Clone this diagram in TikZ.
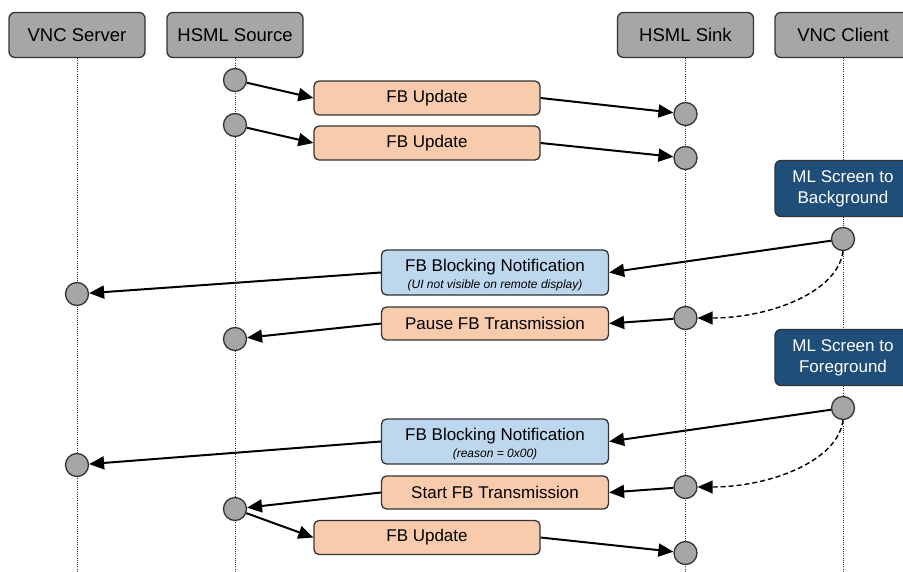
\documentclass[tikz,border=0pt]{standalone}
\usepackage{fontspec}
\setmainfont{Liberation Sans}
\usetikzlibrary{arrows.meta}
\definecolor{hdrgray}{HTML}{A6A6A6}
\definecolor{dotgray}{HTML}{A6A6A6}
\definecolor{msgorange}{HTML}{F8CBAD}
\definecolor{blkblue}{HTML}{BDD7EE}
\definecolor{evtblue}{HTML}{1F4E79}
\definecolor{edge}{HTML}{333333}
\newcommand{\subtxt}[1]{{\fontsize{12}{13}\selectfont\itshape #1}}
\tikzset{
  hdr/.style={draw=edge, line width=1.3pt, fill=hdrgray, rounded corners=6pt,
    minimum width=136pt, minimum height=45pt, inner sep=0pt,
    font=\fontsize{18.5}{20}\selectfont},
  msgbox/.style={draw=edge, line width=1.3pt, fill=msgorange, rounded corners=5pt,
    minimum height=34pt, inner sep=0pt, font=\fontsize{17}{19}\selectfont},
  blkbox/.style={draw=edge, line width=1.3pt, fill=blkblue, rounded corners=5pt,
    minimum width=227pt, minimum height=45pt, inner sep=0pt, align=center,
    font=\fontsize{17}{18}\selectfont},
  evtbox/.style={draw=edge, line width=1.3pt, fill=evtblue, text=white, rounded corners=6pt,
    minimum width=136pt, minimum height=56pt, inner sep=0pt, align=center,
    font=\fontsize{17}{21}\selectfont},
  pt/.style={circle, draw=edge, line width=1.3pt, fill=dotgray, minimum size=23pt, inner sep=0pt},
  life/.style={draw=black!80, line width=1pt, dash pattern=on 1pt off 1.2pt},
  arr/.style={line width=2pt, -{Triangle[length=15pt,width=13pt]}},
  darr/.style={line width=1.4pt, dash pattern=on 5pt off 3pt, -{Triangle[length=15pt,width=13pt]}}
}
\begin{document}
\begin{tikzpicture}[x=1pt,y=-1pt]
\useasboundingbox (0,0) rectangle (903,571);
\begin{scope}
\clip (0,0) rectangle (903,571);
% headers
\node[hdr] (vs) at (77,35) {VNC Server};
\node[hdr] (hs) at (235,35) {HSML Source};
\node[hdr] (hk) at (685.5,35) {HSML Sink};
\node[hdr] (vc) at (843,35) {VNC Client};
% lifeline ends
\coordinate (vse) at (77,571);
\coordinate (hse) at (235,571);
\coordinate (hke) at (685.5,571);
\coordinate (vce) at (843,571);
\draw[life] (vs.south) -- (vse);
\draw[life] (hs.south) -- (hse);
\draw[life] (hk.south) -- (hke);
\draw[life] (vc.south) -- (vce);
% events
\node[evtbox] (e1) at (843,188.5) {ML Screen to\\Background};
\node[evtbox] (e2) at (843,357.5) {ML Screen to\\Foreground};
% points
\node[pt] (s1) at (235,80) {};
\node[pt] (k1) at (685.5,114) {};
\node[pt] (s2) at (235,125) {};
\node[pt] (k2) at (685.5,158) {};
\node[pt] (c1) at (843,239) {};
\node[pt] (v1) at (77,294) {};
\node[pt] (k3) at (685.5,318) {};
\node[pt] (s3) at (235,339) {};
\node[pt] (c2) at (843,408) {};
\node[pt] (v2) at (77,465) {};
\node[pt] (k4) at (685.5,487) {};
\node[pt] (s4) at (235,509) {};
\node[pt] (k5) at (685.5,553) {};
% message boxes
\node[msgbox, minimum width=226pt] (u1) at (427,98) {FB Update};
\node[msgbox, minimum width=226pt] (u2) at (427,143) {FB Update};
\node[blkbox] (b1) at (495,272.5) {\rule{0pt}{18pt}FB Blocking Notification\\[-1pt]\subtxt{(UI not visible on remote display)}};
\node[msgbox, minimum width=227pt, minimum height=33pt] (p1) at (495,323.5) {Pause FB Transmission};
\node[blkbox] (b2) at (495,441.5) {\rule{0pt}{18pt}FB Blocking Notification\\[-1pt]\subtxt{(reason = 0x00)}};
\node[msgbox, minimum width=227pt, minimum height=33pt] (st) at (495,492.5) {Start FB Transmission};
\node[msgbox, minimum width=226pt] (u3) at (427,537.5) {FB Update};
% arrows
\draw[arr] (s1) -- (u1.west);
\draw[arr] (u1.east) -- (k1);
\draw[arr] (s2) -- (u2.west);
\draw[arr] (u2.east) -- (k2);
\draw[arr] (c1) -- (b1.east);
\draw[arr] (b1.west) -- (v1);
\draw[darr] (c1.south) .. controls (838,292) and (770,318) .. (k3.east);
\draw[arr] (k3) -- (p1.east);
\draw[arr] (p1.west) -- (s3);
\draw[arr] (c2) -- (b2.east);
\draw[arr] (b2.west) -- (v2);
\draw[darr] (c2.south) .. controls (838,461) and (770,487) .. (k4.east);
\draw[arr] (k4) -- (st.east);
\draw[arr] (st.west) -- (s4);
\draw[arr] (s4) -- (u3.west);
\draw[arr] (u3.east) -- (k5);
\end{scope}
\end{tikzpicture}
\end{document}
